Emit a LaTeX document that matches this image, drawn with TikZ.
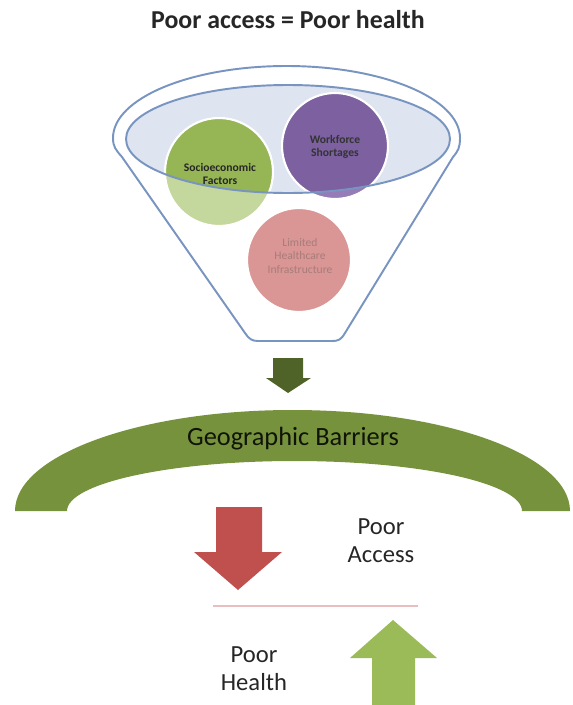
\documentclass[tikz,border=0pt]{standalone}
\usepackage{fontspec}
\setmainfont{Carlito}
\definecolor{funnelblue}{RGB}{120,148,192}
\definecolor{rimfill}{RGB}{222,228,240}
\definecolor{sociogreen}{RGB}{150,182,86}
\definecolor{sociolight}{RGB}{196,215,156}
\definecolor{workpurple}{RGB}{124,96,160}
\definecolor{worklight}{RGB}{150,124,182}
\definecolor{infrapink}{RGB}{217,150,148}
\definecolor{infratext}{RGB}{168,124,122}
\definecolor{darkolive}{RGB}{79,98,40}
\definecolor{bandgreen}{RGB}{118,146,60}
\definecolor{accessred}{RGB}{192,80,77}
\definecolor{healthgreen}{RGB}{155,187,89}
\definecolor{splitpink}{RGB}{232,190,190}
\definecolor{darktext}{RGB}{38,38,38}

\begin{document}
\begin{tikzpicture}[x=0.2mm, y=-0.2mm,
  every node/.style={align=center, inner sep=0pt},
  ring/.style={draw=white, line width=1.2pt},
  small/.style={font=\fontsize{6.6}{7.8}\selectfont},
  big/.style={font=\fontsize{14}{15.8}\selectfont, text=darktext}]

  \useasboundingbox (0,0) rectangle (572,705);

  % Title
  \node[anchor=base, font=\bfseries\fontsize{14.7}{17}\selectfont, text=darktext] (title) at (288,28) {Poor access = Poor health};

  % Funnel body (pixel coords, y grows downwards)
  \draw[funnelblue, line width=1.1pt]
    (113,138) arc[start angle=180, end angle=360, x radius=173.5, y radius=72]
    .. controls (460,148) and (458,151) .. (453,157) -- (345,333)
    .. controls (341,340) and (338,341) .. (332,341) -- (258,341)
    .. controls (252,341) and (249,339) .. (245,333) -- (122,157)
    .. controls (116,150) and (113,147) .. (113,138) -- cycle;

  % Rim of the funnel
  \fill[rimfill] (288,139) ellipse[x radius=162, y radius=54];

  % Circles, pale where they hang below the rim
  \fill[sociolight] (219,172) circle[radius=54];
  \fill[worklight] (335,146) circle[radius=53];
  \fill[infrapink] (299,260) circle[radius=52];
  \begin{scope}
    \clip (288,139) ellipse[x radius=162, y radius=54];
    \fill[sociogreen] (219,172) circle[radius=54];
    \fill[workpurple] (335,146) circle[radius=53];
  \end{scope}
  \draw[ring] (219,172) circle[radius=54];
  \draw[ring] (335,146) circle[radius=53];
  \draw[ring] (299,260) circle[radius=52];
  \draw[funnelblue, line width=1.1pt] (288,139) ellipse[x radius=162, y radius=54];

  % Circle labels
  \node[small, font=\bfseries\fontsize{6.6}{7.8}\selectfont, text=black!85] (socio) at (220,174) {Socioeconomic\\Factors};
  \node[small, font=\bfseries\fontsize{6.6}{7.8}\selectfont, text=black!80] (workforce) at (335,147) {Workforce\\Shortages};
  \node[small, text=infratext] (infra) at (300,256) {Limited\\Healthcare\\Infrastructure};

  % Arrow out of the funnel
  \fill[darkolive] (273,358) -- (303,358) -- (303,378) -- (311,378) -- (288,393)
    -- (266,378) -- (273,378) -- cycle;

  % Geographic barriers band
  \fill[bandgreen] (15,511) arc[start angle=180, end angle=360, x radius=277.5, y radius=101]
    -- (522,511) arc[start angle=360, end angle=180, x radius=227.5, y radius=50] -- cycle;
  \node[anchor=base, font=\fontsize{15}{18}\selectfont, text=black!80!darkolive] (barrier) at (293,445) {Geographic Barriers};

  % Poor access goes down
  \fill[accessred] (216,507) -- (262,507) -- (262,552) -- (282,552) -- (238,590)
    -- (194,552) -- (216,552) -- cycle;
  \node[big] (access) at (381,541) {Poor\\Access};

  % Dividing line
  \draw[splitpink, line width=1pt] (213,606) -- (418,606);

  % Poor health comes back up
  \fill[healthgreen] (372,705) -- (372,658) -- (350,658) -- (393,620) -- (437,658)
    -- (415,658) -- (415,705) -- cycle;
  \node[big] (health) at (254,669) {Poor\\Health};

\end{tikzpicture}
\end{document}
